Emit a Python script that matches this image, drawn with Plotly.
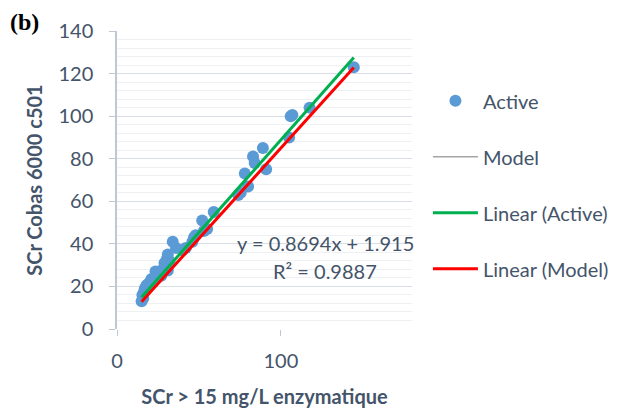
import plotly.graph_objects as go

# Active series
active_x = [15, 16, 15.5, 16.5, 17, 18, 19, 20, 21, 22.5, 24, 23.5, 25, 27, 28, 30, 31, 29, 30.5, 32,
            31, 34, 36, 40, 42, 46, 47, 48, 53, 55, 52, 59, 74, 75.5, 80, 78, 91, 84, 83, 89,
            105, 106, 107, 117.5, 144.5]
active_y = [13, 14.5, 16, 17.5, 19, 20.5, 21, 22, 23.5, 22.5, 24, 27, 26, 25, 28, 29, 27.5, 31, 33, 32,
            35, 41, 38, 37, 38, 41, 43, 44, 46, 47, 51, 55, 63, 64, 67, 73, 75, 78, 81, 85,
            90, 100, 100.5, 104, 123]

# Model series (line)
model_x = [15, 144.5]
model_y = [12.8, 122.8]

# Trend lines (endpoints)
lin_active_x = [15, 144.5]
lin_active_y = [14.96, 127.55]
lin_model_x = [15, 144.5]
lin_model_y = [12.8, 122.8]

eq_line1 = "y = 0.8694x + 1.915"
eq_line2 = "R² = 0.9887"

x_ticks = [0, 100]
y_ticks = [0, 20, 40, 60, 80, 100, 120, 140]

TXT = "#44546A"
FONT = "Lato"

fig = go.Figure()
fig.add_trace(go.Scatter(x=active_x, y=active_y, mode="markers", name="Active",
                         marker=dict(color="#5B9BD5", size=12), legendgroup="a"))
fig.add_trace(go.Scatter(x=model_x, y=model_y, mode="lines", name="Model",
                         line=dict(color="#A5A5A5", width=1.5), legendgroup="b"))
fig.add_trace(go.Scatter(x=lin_active_x, y=lin_active_y, mode="lines", name="Linear (Active)",
                         line=dict(color="#00B050", width=3), legendgroup="c"))
fig.add_trace(go.Scatter(x=lin_model_x, y=lin_model_y, mode="lines", name="Linear (Model)",
                         line=dict(color="#FF0000", width=3), legendgroup="d"))

fig.update_layout(
    width=623, height=408,
    margin=dict(l=117, r=211, t=31, b=79, autoexpand=False),
    paper_bgcolor="white", plot_bgcolor="white",
    font=dict(family=FONT, size=20, color=TXT),
    showlegend=True,
    legend=dict(x=1.054, y=0.831, xanchor="left", yanchor="top",
                font=dict(size=20, color=TXT), tracegroupgap=27,
                itemwidth=45, bgcolor="rgba(0,0,0,0)"),
    xaxis=dict(range=[0, 180], tickvals=x_ticks, showgrid=False, zeroline=False,
               showline=False, ticks="outside", ticklen=6, tickcolor="#BFC6D4",
               ticklabelstandoff=8, automargin=False,
               title=dict(text="<b>SCr > 15 mg/L enzymatique</b>", font=dict(size=20, color=TXT), standoff=18),
               tickfont=dict(size=20, color=TXT)),
    yaxis=dict(range=[0, 140], tickvals=y_ticks, showgrid=True, gridcolor="#D9DEE6", gridwidth=1,
               zeroline=False, showline=True, linecolor="#BFC6D4", linewidth=1.5,
               ticks="outside", ticklen=6, tickcolor="#BFC6D4",
               ticklabelstandoff=12, automargin=False,
               minor=dict(dtick=4, showgrid=True, gridcolor="#EEF0F4", gridwidth=1),
               title=dict(text="<b>SCr Cobas 6000 c501</b>", font=dict(size=20, color=TXT), standoff=10),
               tickfont=dict(size=20, color=TXT)),
    annotations=[
        dict(x=127, y=40.4, xref="x", yref="y", text=eq_line1, showarrow=False,
             font=dict(size=20, color=TXT)),
        dict(x=127, y=27.3, xref="x", yref="y", text=eq_line2, showarrow=False,
             font=dict(size=20, color=TXT)),
        dict(x=-0.37, y=1.03, xref="paper", yref="paper", xanchor="left", yanchor="middle",
             text="<b>(b)</b>", showarrow=False,
             font=dict(family="Liberation Serif", size=24, color="black")),
    ],
)
fig.write_html("out.html")
